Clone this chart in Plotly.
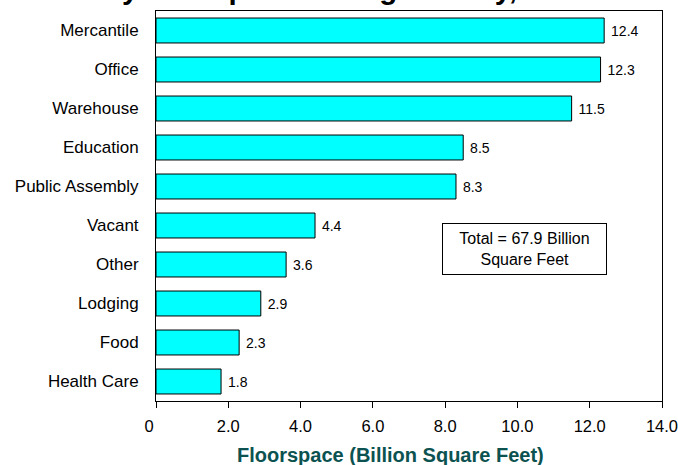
import plotly.graph_objects as go

categories = ["Mercantile", "Office", "Warehouse", "Education", "Public Assembly",
              "Vacant", "Other", "Lodging", "Food", "Health Care"]
floorspace = [12.4, 12.3, 11.5, 8.5, 8.3, 4.4, 3.6, 2.9, 2.3, 1.8]
tick_vals = [0, 2, 4, 6, 8, 10, 12, 14]
tick_text = ["0\u00a0\u00a0\u00a0", "2.0", "4.0", "6.0", "8.0", "10.0", "12.0", "14.0"]
title_text = "by Principal Building Activity, 1999"
xaxis_title = "Floorspace (Billion Square Feet)"
total_note = "Total = 67.9 Billion<br>Square Feet"

FONT = "Liberation Sans, Arial, sans-serif"

fig = go.Figure(go.Bar(
    x=floorspace, y=categories, orientation="h",
    marker=dict(color="#00FFFF", line=dict(color="black", width=1)),
    width=0.64,
    text=["\u00a0" + f"{v:.1f}" for v in floorspace],
    textposition="outside", cliponaxis=False,
    textfont=dict(family=FONT, size=14, color="black"),
))

fig.update_layout(
    width=678, height=465,
    margin=dict(l=156, r=16, t=11, b=64, autoexpand=False),
    paper_bgcolor="white", plot_bgcolor="white",
    showlegend=False,
    font=dict(family=FONT, color="black"),
    xaxis=dict(range=[0, 14], tickvals=tick_vals, ticktext=tick_text, automargin=False,
               showgrid=False, zeroline=False, showline=True, linecolor="black",
               linewidth=1, mirror=True, ticks="outside", ticklen=6, tickcolor="black",
               tickfont=dict(size=16.5, family=FONT, color="black"),
               ticklabelstandoff=4, ticklabeloverflow="allow"),
    yaxis=dict(autorange="reversed", showgrid=False, zeroline=False, showline=True,
               automargin=False,
               linecolor="black", linewidth=1, mirror=True, ticks="",
               tickfont=dict(size=17, family=FONT, color="black"),
               ticklabelstandoff=13),
    annotations=[
        dict(text=title_text, xref="paper", yref="paper", x=0.3775, y=1,
             xanchor="center", yanchor="bottom", yshift=4, showarrow=False,
             font=dict(size=29.5, family=FONT, color="black", weight="bold")),
        dict(text=xaxis_title, xref="paper", yref="paper", x=0.4625, y=-0.138,
             xanchor="center", yanchor="middle", showarrow=False,
             font=dict(size=20, family=FONT, color="#0b5250", weight="bold")),
        dict(text=total_note, xref="paper", yref="paper", x=0.728, y=0.39,
             xanchor="center", yanchor="middle", showarrow=False, align="center",
             width=155, height=42, borderpad=4, bordercolor="black", borderwidth=1,
             bgcolor="white",
             font=dict(size=16, family=FONT, color="black")),
    ],
)

fig.write_html("out.html", config={"displayModeBar": False},
               post_script="document.body.style.margin='0';")
